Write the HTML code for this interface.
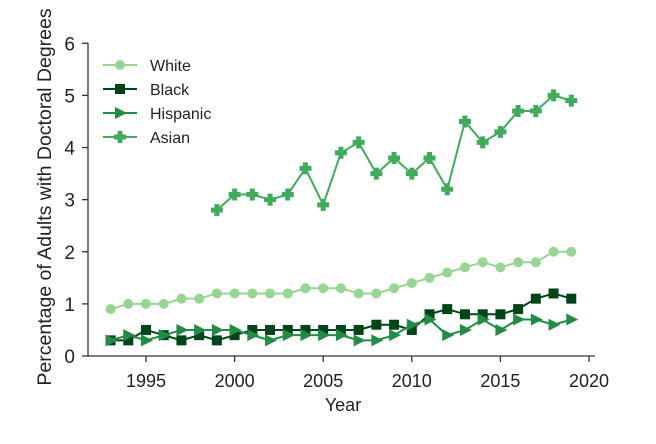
<!DOCTYPE html>
<html><head><meta charset="utf-8"><style>
body{margin:0;background:#fff;}
svg text{font-family:"Liberation Sans",Arial,sans-serif;fill:#222;}
</style></head><body>
<svg id="chart" width="656" height="439" viewBox="0 0 656 439" xmlns="http://www.w3.org/2000/svg">
<g id="axes"></g><g id="series"></g><g id="legend"></g>
</svg>
<script>
const yearsAll = [1993,1994,1995,1996,1997,1998,1999,2000,2001,2002,2003,2004,2005,2006,2007,2008,2009,2010,2011,2012,2013,2014,2015,2016,2017,2018,2019];
const yearsAsian = [1999,2000,2001,2002,2003,2004,2005,2006,2007,2008,2009,2010,2011,2012,2013,2014,2015,2016,2017,2018,2019];
const whiteVals = [0.9,1.0,1.0,1.0,1.1,1.1,1.2,1.2,1.2,1.2,1.2,1.3,1.3,1.3,1.2,1.2,1.3,1.4,1.5,1.6,1.7,1.8,1.7,1.8,1.8,2.0,2.0];
const blackVals = [0.3,0.3,0.5,0.4,0.3,0.4,0.3,0.4,0.5,0.5,0.5,0.5,0.5,0.5,0.5,0.6,0.6,0.5,0.8,0.9,0.8,0.8,0.8,0.9,1.1,1.2,1.1];
const hispVals = [0.3,0.4,0.3,0.4,0.5,0.5,0.5,0.5,0.4,0.3,0.4,0.4,0.4,0.4,0.3,0.3,0.4,0.6,0.7,0.4,0.5,0.7,0.5,0.7,0.7,0.6,0.7];
const asianVals = [2.8,3.1,3.1,3.0,3.1,3.6,2.9,3.9,4.1,3.5,3.8,3.5,3.8,3.2,4.5,4.1,4.3,4.7,4.7,5.0,4.9];
const xTicks = [1995,2000,2005,2010,2015,2020];
const yTicks = [0,1,2,3,4,5,6];

const NS="http://www.w3.org/2000/svg";
const X = yr => 146 + (yr-1995)*(589-146)/25;
const Y = v => 356 - v*(356-43.3)/6;
function mk(tag, attrs, parent){const e=document.createElementNS(NS,tag);for(const k in attrs)e.setAttribute(k,attrs[k]);parent.appendChild(e);return e;}
const axes=document.getElementById('axes'), ser=document.getElementById('series'), leg=document.getElementById('legend');

let yl=mk('line',{x1:88,y1:43,x2:88,y2:356,stroke:'#333','stroke-width':1.3},axes);


let xl=mk('line',{x1:88,y1:356,x2:595,y2:356,stroke:'#333','stroke-width':1.3},axes);


yTicks.forEach(v=>{
  mk('line',{x1:82,y1:Y(v),x2:88,y2:Y(v),stroke:'#333','stroke-width':1.3},axes);
  const t=mk('text',{x:75,y:Y(v)+7,'text-anchor':'end','font-size':19},axes);t.textContent=v;
  
  
});
xTicks.forEach(v=>{
  mk('line',{x1:X(v),y1:356,x2:X(v),y2:362,stroke:'#333','stroke-width':1.3},axes);
  const t=mk('text',{x:X(v),y:387,'text-anchor':'middle','font-size':18},axes);t.textContent=v;
  
  
});
let xt=mk('text',{x:343,y:411,'text-anchor':'middle','font-size':18},axes);xt.textContent='Year';


let yt=mk('text',{x:0,y:0,'text-anchor':'middle','font-size':19.5,transform:'translate(51,197) rotate(-90)'},axes);yt.textContent='Percentage of Adults with Doctoral Degrees';



function marker(kind,x,y,color,g){
  if(kind==='circle') return mk('circle',{cx:x,cy:y,r:5,fill:color},g);
  if(kind==='square') return mk('rect',{x:x-5,y:y-5,width:10,height:10,fill:color},g);
  if(kind==='tri') return mk('polygon',{points:`${x-5},${y-6} ${x+7},${y} ${x-5},${y+6}`,fill:color},g);
  return mk('path',{d:`M${x-2.5},${y-6}h5v3.5h3.5v5h-3.5v3.5h-5v-3.5h-3.5v-5h3.5z`,fill:color},g);
}
const series=[
 {name:'White',years:yearsAll,vals:whiteVals,color:'#98d594',m:'circle'},
 {name:'Black',years:yearsAll,vals:blackVals,color:'#00441b',m:'square'},
 {name:'Hispanic',years:yearsAll,vals:hispVals,color:'#238b45',m:'tri'},
 {name:'Asian',years:yearsAsian,vals:asianVals,color:'#41ab5d',m:'plus'}
];
series.forEach((s,i)=>{
  const g=mk('g',{},ser);
  
  
  const pts=s.years.map((yr,j)=>X(yr)+','+Y(s.vals[j])).join(' ');
  mk('polyline',{points:pts,fill:'none',stroke:s.color,'stroke-width':2},g);
  s.years.forEach((yr,j)=>{
    const m=marker(s.m,X(yr),Y(s.vals[j]),s.color,g);
    
    
  });
  const ly=65+i*24;
  const lg=mk('g',{},leg);
  
  
  mk('line',{x1:103,y1:ly,x2:137,y2:ly,stroke:s.color,'stroke-width':2},lg);
  marker(s.m,120,ly,s.color,lg);
  const t=mk('text',{x:150,y:ly+6,'font-size':16},lg);t.textContent=s.name;
});
</script>
</body></html>
